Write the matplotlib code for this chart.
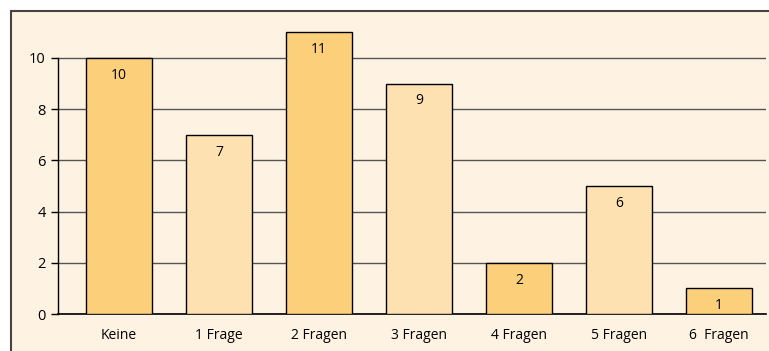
import matplotlib.pyplot as plt
from matplotlib.patches import Rectangle

categories = ['Keine', '1 Frage', '2 Fragen', '3 Fragen', '4 Fragen', '5 Fragen', '6  Fragen']
counts = [10, 7, 11, 9, 2, 5, 1]
# printed labels as they appear on the bars
labels = ['10', '7', '11', '9', '2', '6', '1']

dark = '#fcd07a'
light = '#fde1b0'
bg = '#fef3e2'

plt.rcParams['font.family'] = ['Liberation Sans Narrow', 'Open Sans', 'DejaVu Sans']

fig = plt.figure(figsize=(7.69, 3.51), dpi=100)
fig.patches.append(Rectangle((11 / 769, -0.1), 1.2, 1 - 11 / 351 + 0.1,
                             transform=fig.transFigure, facecolor=bg,
                             edgecolor='#444444', linewidth=1.5, zorder=-10))

ax = fig.add_axes([58 / 769, 1 - 314 / 351, 708 / 769, 297 / 351])
ax.set_facecolor('none')

x = range(len(categories))
colors = [dark if i % 2 == 0 else light for i in x]
bars = ax.bar(x, counts, width=0.66, color=colors, edgecolor='black',
              linewidth=1, zorder=3)

for b, lab in zip(bars, labels):
    ax.text(b.get_x() + b.get_width() / 2, b.get_height() - 0.68, lab,
            ha='center', va='center', fontsize=10, zorder=4)

ax.set_xlim(-0.61, 6.47)
ax.set_ylim(0, 11.6)
ax.set_yticks([0, 2, 4, 6, 8, 10])
ax.yaxis.grid(True, color='#555555', linewidth=1)
ax.set_axisbelow(True)

ax.set_xticks(list(x))
ax.set_xticklabels(categories, fontsize=10)
ax.tick_params(axis='x', length=0, pad=10)
ax.tick_params(axis='y', length=5, width=1, labelsize=10.5, pad=4)

for s in ['top', 'right']:
    ax.spines[s].set_visible(False)
ax.spines['left'].set_linewidth(1)
ax.spines['left'].set_bounds(0, 10)
ax.spines['bottom'].set_linewidth(1.2)

fig.savefig('out.png', dpi=100)
